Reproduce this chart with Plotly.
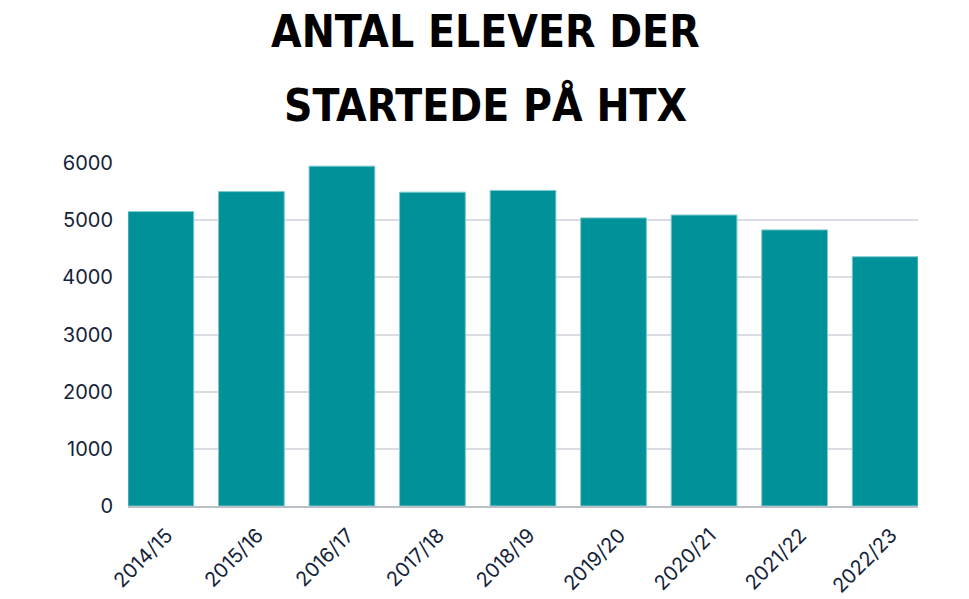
import plotly.graph_objects as go

categories = ["2014/15", "2015/16", "2016/17", "2017/18", "2018/19",
              "2019/20", "2020/21", "2021/22", "2022/23"]
values = [5150, 5500, 5945, 5490, 5520, 5040, 5090, 4830, 4360]
y_ticks = [0, 1000, 2000, 3000, 4000, 5000, 6000]
title_lines = ["ANTAL ELEVER DER", "STARTEDE PÅ HTX"]

fig = go.Figure()
fig.add_trace(go.Bar(
    x=list(range(len(categories))),
    y=values,
    marker=dict(color="#009298", line=dict(color="#7cc9cc", width=1)),
    width=0.726,
    hoverinfo="x+y",
))

title_font = dict(family="DejaVu Sans Condensed, DejaVu Sans", size=44, color="#000000", weight=700)
for line, ypos in zip(title_lines, [1.383, 1.168]):
    fig.add_annotation(
        text=line, xref="paper", yref="paper", x=0.452, y=ypos,
        xanchor="center", yanchor="middle", showarrow=False,
        font=title_font,
    )

fig.update_layout(
    width=969, height=599,
    margin=dict(l=128, r=51, t=163, b=93),
    paper_bgcolor="white", plot_bgcolor="white",
    showlegend=False,
    xaxis=dict(
        tickmode="array",
        tickvals=list(range(len(categories))),
        ticktext=categories,
        range=[-0.363, len(categories) - 1 + 0.363],
        tickangle=-45,
        showgrid=False,
        showline=True, linecolor="#b9c0c8", linewidth=1.5,
        ticks="",
        automargin=False,
        ticklabelstandoff=8,
        ticklabelshift=6,
        tickfont=dict(family="Inter", size=20, color="#14233a"),
    ),
    yaxis=dict(
        range=[0, 6000],
        tickmode="array",
        tickvals=y_ticks,
        showgrid=True, gridcolor="#d9dde3", gridwidth=1.5,
        zeroline=False,
        showline=False,
        ticks="",
        automargin=False,
        ticklabelstandoff=14,
        tickfont=dict(family="Inter", size=20, color="#14233a"),
    ),
)

fig.write_html("out.html")
